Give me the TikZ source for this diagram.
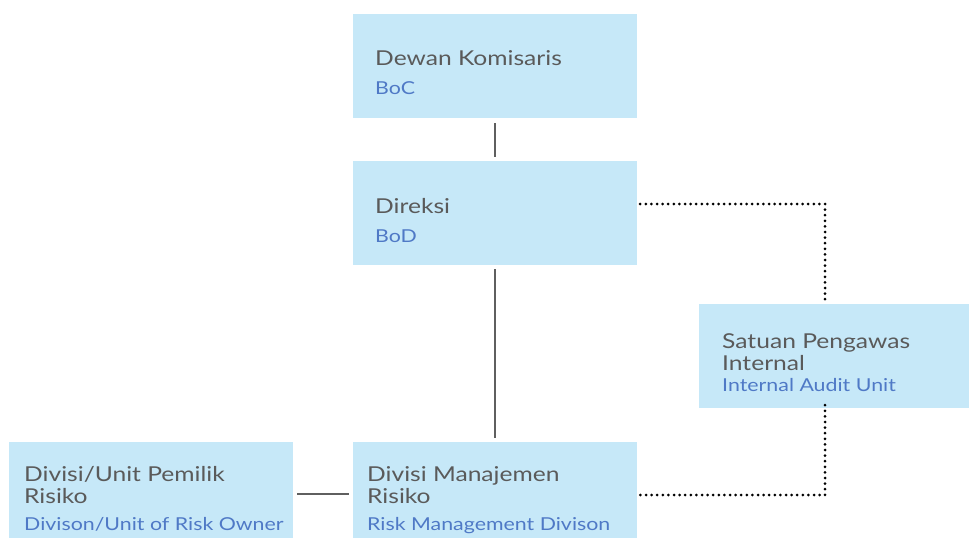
\documentclass[tikz,border=0pt]{standalone}
\usepackage{fontspec}
\setmainfont{Lato}[FakeStretch=1.2]
\definecolor{boxfill}{HTML}{C6E8F8}
\definecolor{maintxt}{HTML}{5A5A5A}
\definecolor{subtxt}{HTML}{4F79C6}
\definecolor{linegray}{HTML}{5F5F5F}
\begin{document}
\begin{tikzpicture}[x=1pt,y=-1pt,
  orgbox/.style={draw=none,fill=boxfill,rectangle,inner sep=0pt},
  title/.style={anchor=base west,inner sep=0pt,text=maintxt,font=\fontsize{20.5}{22}\selectfont},
  sub/.style={anchor=base west,inner sep=0pt,text=subtxt,font=\fontsize{17.8}{20}\selectfont},
  solidline/.style={draw=linegray,line width=2pt},
  dotline/.style={draw=black,line width=3pt,line cap=round,dash pattern=on 0pt off 5.6pt}]
\useasboundingbox (0,0) rectangle (969,538);
% boxes
\node[orgbox,minimum width=284pt,minimum height=104pt] (boc) at (495,66) {};
\node[orgbox,minimum width=284pt,minimum height=104pt] (bod) at (495,213) {};
\node[orgbox,minimum width=270pt,minimum height=104pt] (spi) at (834,356) {};
\node[orgbox,minimum width=284pt,minimum height=100pt] (own) at (151,492) {};
\node[orgbox,minimum width=284pt,minimum height=100pt] (rmd) at (495,492) {};
% texts
\node[title] (t1) at (375,65) {Dewan Komisaris};
\node[sub] (s1) at (375,94) {BoC};
\node[title] (t2) at (375,213) {Direksi};
\node[sub] (s2) at (375,242) {BoD};
\node[title] (t3a) at (722,348) {Satuan Pengawas};
\node[title] (t3b) at (722,370) {Internal};
\node[sub] (s3) at (722,391) {Internal Audit Unit};
\node[title] (t4a) at (24,481) {Divisi/Unit Pemilik};
\node[title] (t4b) at (24,503) {Risiko};
\node[sub] (s4) at (24,530) {Divison/Unit of Risk Owner};
\node[title] (t5a) at (367,481) {Divisi Manajemen};
\node[title] (t5b) at (367,503) {Risiko};
\node[sub] (s5) at (367,530) {Risk Management Divison};
% solid connectors
\draw[solidline,shorten <=5pt,shorten >=4pt] (boc.south) -- (bod.north);
\draw[solidline,shorten <=4pt,shorten >=4pt] (bod.south) -- (rmd.north);
\coordinate (h1) at (0,494);
\draw[solidline,shorten <=4pt,shorten >=4pt] (own.east |- h1) -- (rmd.west |- h1);
% dotted connectors
\coordinate (c1) at (825,204);
\coordinate (c2) at (825,495);
\draw[dotline] ([xshift=3pt]bod.east |- c1) -- (c1) -- (spi.north -| c1);
\draw[dotline] ([yshift=3pt]spi.south -| c2) -- (c2) -- ([xshift=3pt]rmd.east |- c2);
\end{tikzpicture}
\end{document}
